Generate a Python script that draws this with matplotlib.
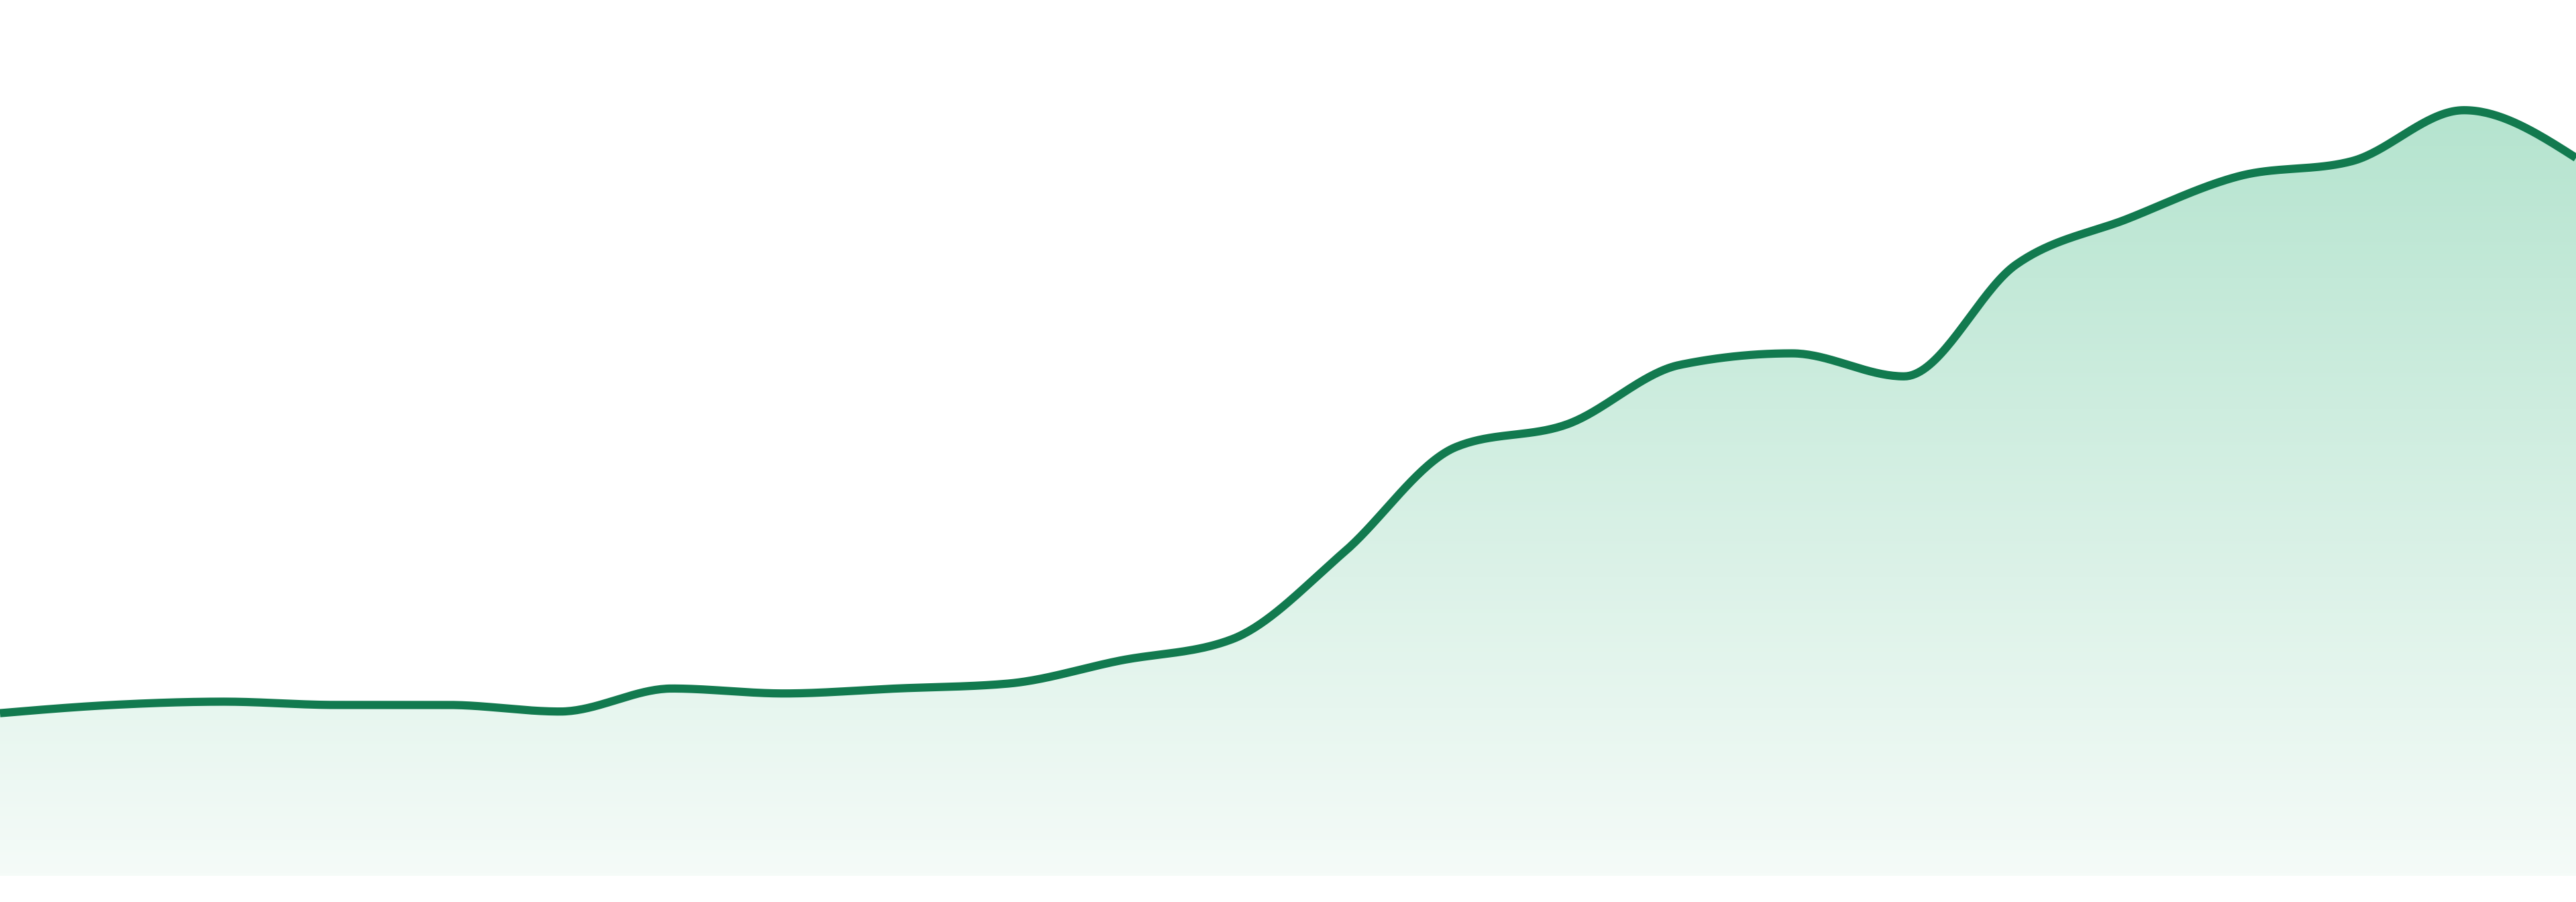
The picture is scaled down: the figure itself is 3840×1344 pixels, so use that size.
import matplotlib
matplotlib.use("Agg")
import matplotlib.pyplot as plt
import numpy as np
from matplotlib.colors import LinearSegmentedColormap

# series values (height above baseline)
x_idx = list(range(24))
values = [99, 104, 106, 104, 104, 100, 114, 111, 114, 117, 131, 144,
          197, 261, 275, 311, 318, 304, 372, 400, 426, 435, 466, 437]

line_color = "#127a4f"


def monotone(x, y, n=40):
    # monotone cubic (like d3 curveMonotoneX) for drawing the line
    x = np.asarray(x, float)
    y = np.asarray(y, float)
    h = np.diff(x)
    d = np.diff(y) / h
    m = np.zeros_like(y)
    for i in range(1, len(y) - 1):
        if d[i - 1] * d[i] <= 0:
            m[i] = 0
        else:
            p = (d[i - 1] * h[i] + d[i] * h[i - 1]) / (h[i - 1] + h[i])
            m[i] = (np.sign(d[i - 1]) + np.sign(d[i])) * min(abs(d[i - 1]), abs(d[i]), 0.5 * abs(p))
    m[0] = (3 * d[0] - m[1]) / 2
    m[-1] = (3 * d[-1] - m[-2]) / 2
    xs, ys = [], []
    for i in range(len(x) - 1):
        t = np.linspace(0, 1, n, endpoint=False)
        h00 = 2 * t**3 - 3 * t**2 + 1
        h10 = t**3 - 2 * t**2 + t
        h01 = -2 * t**3 + 3 * t**2
        h11 = t**3 - t**2
        xs.append(x[i] + t * h[i])
        ys.append(h00 * y[i] + h10 * h[i] * m[i] + h01 * y[i + 1] + h11 * h[i] * m[i + 1])
    xs.append([x[-1]])
    ys.append([y[-1]])
    return np.concatenate(xs), np.concatenate(ys)


sx, sy = monotone(x_idx, values)

bottom = 39 / 1344
fig = plt.figure(figsize=(38.4, 13.44), dpi=100)
ax = fig.add_axes([0, bottom, 1, 1 - bottom])
ax.set_xlim(0, 23)
ax.set_ylim(0, 532 * (1 - bottom) / (1 - 17 / 549))
ax.axis("off")

# gradient fill under the line
cmap = LinearSegmentedColormap.from_list("g", ["#f5fbf8", "#b5e4cf"])
grad = np.linspace(0, 1, 256).reshape(-1, 1)
img = ax.imshow(grad, extent=[0, 23, 0, max(values)], origin="lower",
                aspect="auto", cmap=cmap, vmin=0, vmax=1, zorder=1)
poly = ax.fill_between(sx, 0, sy, color="none")
path = poly.get_paths()[0]
img.set_clip_path(path, transform=ax.transData)

ax.plot(sx, sy, color=line_color, lw=8.8, solid_capstyle="butt",
        solid_joinstyle="round", zorder=3)

fig.savefig("out.png", dpi=100, facecolor="white")
